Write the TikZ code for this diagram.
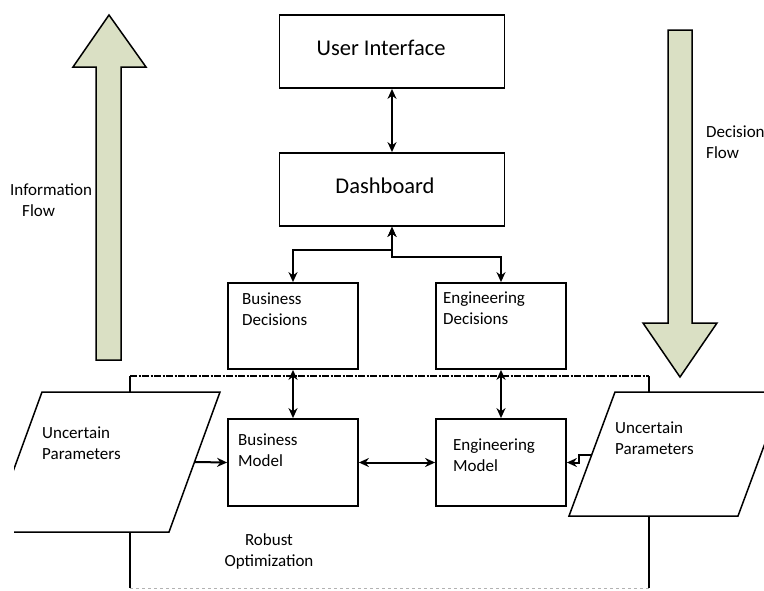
\documentclass[tikz,border=0pt]{standalone}
\usepackage{fontspec}
\setmainfont{Carlito}
\usetikzlibrary{arrows.meta}
\definecolor{flowgreen}{HTML}{DAE0C4}
\begin{document}
\begin{tikzpicture}[x=1pt,y=-1pt,
  box/.style={draw=black,line width=1.8pt,fill=white,inner sep=0pt},
  lbl/.style={anchor=west,align=left,inner sep=0pt,font=\fontsize{17}{21}\selectfont},
  big/.style={inner sep=0pt,font=\fontsize{22.5}{25}\selectfont},
  conn/.style={line width=2pt,{Stealth[length=10pt,width=9pt]}-{Stealth[length=10pt,width=9pt]}},
  conn1/.style={line width=2pt,-{Stealth[length=10pt,width=9pt]}},
  flow/.style={draw=black,line width=1.5pt,fill=flowgreen,line join=miter},
  para/.style={draw=black,line width=1.5pt,fill=white}
]
\useasboundingbox (0,0) rectangle (764,590);

% big flow arrows
\draw[flow] (96,360) -- (96,67) -- (73,67) -- (109,15) -- (146,67) -- (121,67) -- (121,360) -- cycle;
\draw[flow] (668,30) -- (692,30) -- (692,323) -- (717,323) -- (680,377) -- (643,323) -- (668,323) -- cycle;
\node[lbl] (infolbl) at (10,200) {Information\\\hspace{12pt}Flow};
\node[lbl] (declbl) at (706,142) {Decision\\Flow};

% robust optimization frame
\draw[line width=1.5pt,dash pattern=on 7pt off 1.5pt on 2pt off 1.5pt] (130,376) -- (649,376);
\draw[line width=0.6pt,gray!60,dashed] (130,588) -- (649,588);
\draw[line width=1.5pt] (130,376) -- (130,588);
\draw[line width=1.5pt] (649,376) -- (649,588);

% uncertain parameter parallelograms
\begin{scope}
\clip (14,380) rectangle (764,540);
\draw[para] (42,392) -- (220,392) -- (169,532) -- (-9,532) -- cycle;
\end{scope}
\draw[para] (615,392) -- (784,392) -- (738,516) -- (569,516) -- cycle;
\coordinate (lp) at (195,462);
\coordinate (rp) at (592,455);
\node[lbl] (lptext) at (42,443) {Uncertain\\Parameters};
\node[lbl] (rptext) at (615,438) {Uncertain\\Parameters};
\node[align=center,inner sep=0pt,font=\fontsize{17}{21}\selectfont] (ro) at (269,551.5) {Robust\\Optimization};

% boxes
\node[box,minimum width=225pt,minimum height=73pt] (ui) at (392,51.5) {};
\node[big] (uitext) at (381,48) {User Interface};
\node[box,minimum width=225pt,minimum height=73pt] (db) at (392,189.5) {};
\node[big] (dbtext) at (385,186) {Dashboard};
\node[box,minimum width=130pt,minimum height=86pt] (bd) at (293,326) {};
\node[lbl] (bdtext) at (242,309.5) {Business\\Decisions};
\node[box,minimum width=130pt,minimum height=86pt] (ed) at (501,326) {};
\node[lbl] (edtext) at (443,308.5) {Engineering\\Decisions};
\node[box,minimum width=130pt,minimum height=87pt] (bm) at (293,462.5) {};
\node[lbl] (bmtext) at (238,450.5) {Business\\Model};
\node[box,minimum width=130pt,minimum height=87pt] (em) at (501,462.5) {};
\node[lbl] (emtext) at (453,455.5) {Engineering\\Model};

% connectors
\draw[conn] (ui.south) -- (db.north);
\draw[conn] (db.south) -- ++(0,23) -| (bd.north);
\draw[conn] (db.south) -- ++(0,30) -| (ed.north);
\draw[conn] (bd.south) -- (bm.north);
\draw[conn] (ed.south) -- (em.north);
\draw[conn] (bm.east) -- (em.west);
\draw[conn1] (lp) -- (bm.west);
\draw[conn1] (rp) -- (579,455) -- (579,462.5) -- (em.east);
\end{tikzpicture}
\end{document}
